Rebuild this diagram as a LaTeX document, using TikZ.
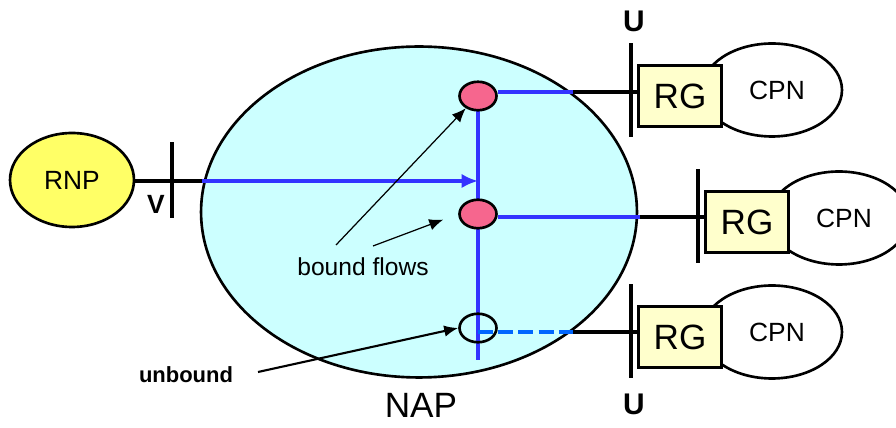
\documentclass[tikz,border=0pt]{standalone}
\usepackage{fontspec}
\setmainfont{Liberation Sans}
\usetikzlibrary{arrows.meta,shapes.geometric}

\definecolor{napciano}{HTML}{CCFFFF}
\definecolor{rnpamarelo}{HTML}{FFFF66}
\definecolor{rgamarelo}{HTML}{FFFFCC}
\definecolor{fluxorosa}{HTML}{F6668E}
\definecolor{fluxoazul}{HTML}{3333FF}
\definecolor{livreazul}{HTML}{0066FF}

\begin{document}
\begin{tikzpicture}[
    x=0.02cm, y=-0.02cm,
    rede/.style={draw, ellipse, line width=1.5pt, inner sep=0pt},
    fluxo/.style={draw, ellipse, line width=1.5pt, inner sep=0pt, minimum width=0.74cm, minimum height=0.57cm},
    caixa/.style={draw, rectangle, line width=1.5pt, fill=rgamarelo, inner sep=0pt, minimum width=1.66cm, minimum height=1.22cm, font=\fontsize{20}{24}\selectfont},
    barra/.style={fill=black, inner sep=0pt, minimum width=0.09cm},
    linha/.style={line width=2.2pt},
    azul/.style={draw=fluxoazul, line width=2.2pt},
    seta/.style={-{Latex[length=2.8mm, width=2.3mm]}, line width=0.7pt},
    rotulo/.style={font=\fontsize{17}{20}\selectfont\bfseries}
  ]
    \useasboundingbox (0,0) rectangle (896,428);

    % rede de acesso
    \node[rede, fill=napciano, minimum width=8.72cm, minimum height=6.62cm] (nap) at (419,212) {};
    \node[font=\fontsize{20}{24}\selectfont] (naprot) at (421,405) {NAP};
    \node[rede, fill=rnpamarelo, minimum width=2.48cm, minimum height=1.88cm, font=\fontsize{15}{18}\selectfont] (rnp) at (72,180) {RNP};

    % interfaces V e U
    \node[barra, minimum height=1.52cm] (vbar) at (172,180) {};
    \node[rotulo, font=\fontsize{15}{18}\selectfont\bfseries] (vrot) at (156,204) {V};
    \node[barra, minimum height=1.88cm] (ubar1) at (631,90) {};
    \node[barra, minimum height=1.88cm] (ubar2) at (698,216) {};
    \node[barra, minimum height=1.88cm] (ubar3) at (631,331) {};
    \node[rotulo] (urot1) at (634,21) {U};
    \node[rotulo] (urot3) at (634,404) {U};

    % redes do cliente
    \node[rede, fill=white, minimum width=2.8cm, minimum height=1.86cm, font=\fontsize{15}{18}\selectfont] (cpn1) at (772,90) {\hspace*{0.2cm}CPN};
    \node[rede, fill=white, minimum width=2.8cm, minimum height=1.86cm, font=\fontsize{15}{18}\selectfont] (cpn2) at (839,218) {\hspace*{0.2cm}CPN};
    \node[rede, fill=white, minimum width=2.8cm, minimum height=1.86cm, font=\fontsize{15}{18}\selectfont] (cpn3) at (772,332) {\hspace*{0.2cm}CPN};
    \node[caixa] (rg1) at (680,96) {RG};
    \node[caixa] (rg2) at (747,222) {RG};
    \node[caixa] (rg3) at (680,337) {RG};

    % pontos de ligacao
    \coordinate (vin) at (202,181);
    \coordinate (ponta) at (478,181);
    \coordinate (fim) at (478,360);
    \coordinate (tap1) at (573,92);
    \coordinate (tap2) at (640,217);
    \coordinate (tap3) at (573,332);

    \draw[linha] (rnp.east |- vin) -- (vin);
    \draw[azul] (478,96) -- (fim);
    \draw[azul, -{Latex[length=3.3mm, width=2.9mm]}] (vin) -- (ponta);

    % fluxos
    \node[fluxo, fill=fluxorosa] (fl1) at (478,96) {};
    \node[fluxo, fill=fluxorosa] (fl2) at (478,214) {};
    \node[fluxo] (fl3) at (478,328) {};

    \draw[azul] (fl1.east |- tap1) -- (tap1);
    \draw[azul] (fl2.east |- tap2) -- (tap2);
    \draw[draw=livreazul, line width=2.2pt, dash pattern=on 8.5pt off 3pt] (fl3.center |- tap3) -- (tap3);
    \draw[linha] (tap1) -- (tap1 -| rg1.west);
    \draw[linha] (tap2) -- (tap2 -| rg2.west);
    \draw[linha] (tap3) -- (tap3 -| rg3.west);

    % legendas
    \node[font=\fontsize{14}{17}\selectfont] (bound) at (363,267) {bound flows};
    \node[font=\fontsize{12.5}{15}\selectfont\bfseries] (unbound) at (186,375) {unbound};
    \coordinate (bfa) at (336,245);
    \coordinate (bfb) at (373,246);
    \coordinate (ubx) at (258,372);
    \draw[seta] (bfa) -- (fl1.225);
    \draw[seta, shorten >=3.2mm] (bfb) -- (fl2.west);
    \draw[seta, line width=1.2pt] (ubx) -- (fl3.west);
\end{tikzpicture}
\end{document}
